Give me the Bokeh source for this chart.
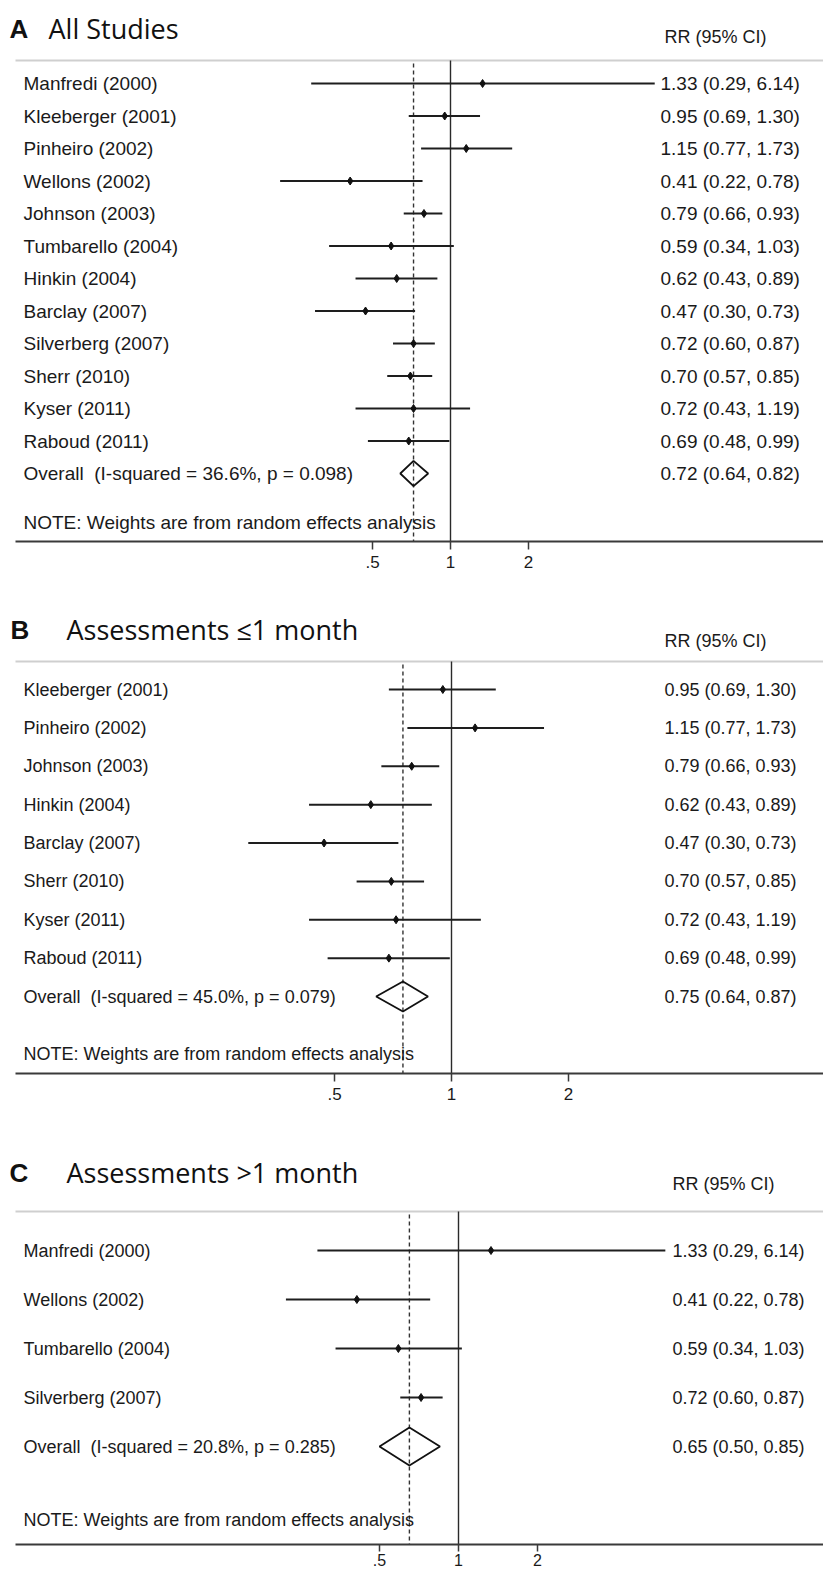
import math
from bokeh.plotting import figure
from bokeh.layouts import column
from bokeh.models import Range1d, FixedTicker
from bokeh.core.properties import value
from bokeh.embed import file_html
from bokeh.resources import INLINE

# ---------------- data ----------------
tick_values = [0.5, 1, 2]
tick_labels = [".5", "1", "2"]
null_value = 1.0
note_text = "NOTE: Weights are from random effects analysis"
header_text = "RR (95% CI)"

a_studies = ["Manfredi (2000)", "Kleeberger (2001)", "Pinheiro (2002)", "Wellons (2002)",
             "Johnson (2003)", "Tumbarello (2004)", "Hinkin (2004)", "Barclay (2007)",
             "Silverberg (2007)", "Sherr (2010)", "Kyser (2011)", "Raboud (2011)"]
a_rr = [1.33, 0.95, 1.15, 0.41, 0.79, 0.59, 0.62, 0.47, 0.72, 0.70, 0.72, 0.69]
a_lo = [0.29, 0.69, 0.77, 0.22, 0.66, 0.34, 0.43, 0.30, 0.60, 0.57, 0.43, 0.48]
a_hi = [6.14, 1.30, 1.73, 0.78, 0.93, 1.03, 0.89, 0.73, 0.87, 0.85, 1.19, 0.99]
a_overall = [0.72, 0.64, 0.82]
a_stats = ["36.6%", "0.098"]

b_studies = ["Kleeberger (2001)", "Pinheiro (2002)", "Johnson (2003)", "Hinkin (2004)",
             "Barclay (2007)", "Sherr (2010)", "Kyser (2011)", "Raboud (2011)"]
b_rr = [0.95, 1.15, 0.79, 0.62, 0.47, 0.70, 0.72, 0.69]
b_lo = [0.69, 0.77, 0.66, 0.43, 0.30, 0.57, 0.43, 0.48]
b_hi = [1.30, 1.73, 0.93, 0.89, 0.73, 0.85, 1.19, 0.99]
b_overall = [0.75, 0.64, 0.87]
b_stats = ["45.0%", "0.079"]

c_studies = ["Manfredi (2000)", "Wellons (2002)", "Tumbarello (2004)", "Silverberg (2007)"]
c_rr = [1.33, 0.41, 0.59, 0.72]
c_lo = [0.29, 0.22, 0.34, 0.60]
c_hi = [6.14, 0.78, 1.03, 0.87]
c_overall = [0.65, 0.50, 0.85]
c_stats = ["20.8%", "0.285"]

# ---------------- layout ----------------
FIG_W = 823
RULE_L = 15       # page x where the rules / axis line begin
TXT = "#1a1a1a"
SANS = value("Liberation Sans")


def fmt(r, l, h):
    return "%.2f (%.2f, %.2f)" % (r, l, h)


def make_panel(letter, title, studies, rr, lo, hi, overall, stats, L):
    c1, ppu = L["c1"], L["ppu"]
    row0, sp = L["row0"], L["sp"]
    fig_top, H, bb = L["top"], L["h"], L["bb"]
    axis_py = fig_top + H - bb

    def px2x(px):
        return 2 ** ((px - c1) / ppu)

    def py2r(py):
        return (py - row0) / sp

    x_lo = px2x(0)
    x_hi = px2x(FIG_W)
    r_top = py2r(fig_top)
    r_bot = py2r(axis_py)

    p = figure(width=FIG_W, height=H, x_axis_type="log",
               x_range=Range1d(x_lo, x_hi), y_range=Range1d(r_bot, r_top),
               output_backend="svg", toolbar_location=None,
               y_axis_location=None,
               min_border_left=0, min_border_right=0,
               min_border_top=0, min_border_bottom=bb)
    p.grid.visible = False
    p.outline_line_color = None
    p.background_fill_color = "white"
    p.border_fill_color = "white"

    ax = p.xaxis[0]
    ax.bounds = (px2x(RULE_L), x_hi)
    ax.ticker = FixedTicker(ticks=tick_values)
    ax.major_label_overrides = {t: s for t, s in zip(tick_values, tick_labels)}
    ax.minor_tick_line_color = None
    ax.axis_line_color = "#3a3a3a"
    ax.axis_line_width = 2
    ax.major_tick_line_color = "#3a3a3a"
    ax.major_tick_line_width = 1.5
    ax.major_tick_out = L["tick_out"]
    ax.major_tick_in = 0
    ax.major_label_standoff = L["standoff"]
    ax.major_label_text_font = "Liberation Sans"
    ax.major_label_text_font_size = L["tick_fs"]
    ax.major_label_text_color = TXT

    n = len(studies)
    rows = list(range(n))
    r_over = n
    r_note = n + 1.5
    top_r = py2r(L["top_line"])

    # top rule
    p.segment(x0=[px2x(RULE_L)], y0=[top_r], x1=[x_hi], y1=[top_r],
              line_color="#cfcfcf", line_width=2)

    # null line
    p.segment(x0=[null_value], y0=[top_r], x1=[null_value], y1=[r_bot],
              line_color="#2a2a2a", line_width=1.4)
    # overall dashed line
    p.segment(x0=[overall[0]], y0=[top_r + 3 / sp], x1=[overall[0]], y1=[r_bot],
              line_color="#333333", line_width=1.4, line_dash="4 3")

    # CIs and points
    p.segment(x0=lo, y0=rows, x1=hi, y1=rows, line_color="#1e1e1e", line_width=2)
    p.scatter(x=rr, y=rows, marker="diamond", size=8, color="#111111")

    # overall diamond
    hh = 0.39
    p.patch(x=[overall[1], overall[0], overall[2], overall[0]],
            y=[r_over, r_over - hh, r_over, r_over + hh],
            fill_color=None, line_color="#111111", line_width=1.8)

    # left labels
    left_txt = studies + ["Overall\u00a0 (I-squared = %s, p = %s)" % (stats[0], stats[1]), note_text]
    left_y = rows + [r_over, r_note]
    p.text(x=[px2x(L["lab_x"])] * len(left_txt), y=left_y, text=left_txt,
           text_font=SANS, text_font_size=L["fs"], text_color=TXT,
           text_baseline="middle", text_align="left")

    # right estimates
    vals = [fmt(r, l, h) for r, l, h in zip(rr, lo, hi)] + [fmt(*overall)]
    p.text(x=[px2x(L["val_x"])] * len(vals), y=rows + [r_over], text=vals,
           text_font=SANS, text_font_size=L["fs"], text_color=TXT,
           text_baseline="middle", text_align="left")

    # header
    p.text(x=[px2x(L["val_x"] + L["rr_dx"])], y=[py2r(L["rr_base"])], text=[header_text],
           text_font=SANS, text_font_size=L["rr_fs"], text_color=TXT,
           text_baseline="alphabetic", text_align="left")

    # panel letter and title
    p.text(x=[px2x(L["letter_x"])], y=[py2r(L["title_base"])], text=[letter],
           text_font=SANS, text_font_style="bold", text_font_size="26px",
           text_color="#111111", text_baseline="alphabetic", text_align="left")
    p.text(x=[px2x(L["title_x"])], y=[py2r(L["title_base"])], text=[title],
           text_font=value("Open Sans"), text_font_size="27px", text_color="#111111",
           text_baseline="alphabetic", text_align="left")
    return p


LA = dict(c1=450, ppu=78, row0=83, sp=32.5, top=0, h=590, bb=49, top_line=60,
          title_base=28, rr_base=36, val_x=660, rr_dx=4, lab_x=23, letter_x=9, title_x=48,
          fs="19px", rr_fs="18px", tick_fs="17px", tick_out=8, standoff=6)
LB = dict(c1=451, ppu=117, row0=689, sp=38.375, top=590, h=520, bb=37, top_line=661,
          title_base=629, rr_base=640, val_x=664, rr_dx=0, lab_x=23, letter_x=10, title_x=66,
          fs="18px", rr_fs="18px", tick_fs="17px", tick_out=8, standoff=6)
LC = dict(c1=458, ppu=79, row0=1250, sp=49, top=1110, h=462, bb=28, top_line=1211,
          title_base=1172, rr_base=1183, val_x=672, rr_dx=0, lab_x=23, letter_x=9, title_x=66,
          fs="18px", rr_fs="18px", tick_fs="16px", tick_out=7, standoff=2)

pa = make_panel("A", "All Studies", a_studies, a_rr, a_lo, a_hi, a_overall, a_stats, LA)
pb = make_panel("B", "Assessments \u22641 month", b_studies, b_rr, b_lo, b_hi, b_overall, b_stats, LB)
pc = make_panel("C", "Assessments >1 month", c_studies, c_rr, c_lo, c_hi, c_overall, c_stats, LC)

layout = column(pa, pb, pc, spacing=0)
open("out.html", "w").write(file_html(layout, INLINE))
